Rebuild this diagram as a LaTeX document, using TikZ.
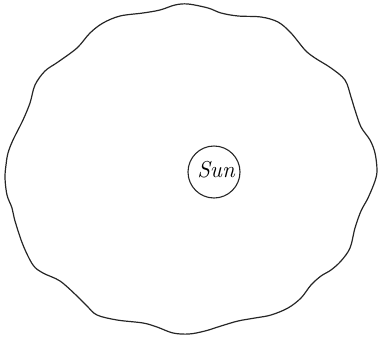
\documentclass[tikz,border=0pt]{standalone}
\begin{document}
\begin{tikzpicture}[x=1pt,y=-1pt,
  orbit/.style={line width=1.2pt,draw=black!85,line join=round},
  sunbox/.style={circle,draw=black!85,line width=1.1pt,minimum size=52pt,inner sep=0pt}]
\useasboundingbox (0,0) rectangle (378,338);
\draw[orbit] plot[smooth cycle,tension=0.55] coordinates {
(188,4) (208,8) (221,13) (238,16) (261,17) (278,22) (291,33) (305,50) (315,58)
(331,68) (345,80) (351,97) (355,110) (361,127) (370,140) (375,153) (377,170)
(375,181) (368,198) (361,211) (355,228) (350,248) (341,261) (331,270) (321,276)
(311,285) (301,298) (288,308) (271,315) (255,318) (238,321) (221,326) (205,331)
(189,334) (173,333) (157,327) (143,323) (117,320) (97,315) (87,306) (77,296)
(60,281) (43,273) (33,265) (23,245) (15,221) (12,208) (7,195) (5,178) (6,165)
(8,153) (13,140) (23,120) (30,103) (35,85) (45,71) (58,62) (77,48) (90,33)
(103,23) (120,16) (143,13) (160,10) (175,5)};
\node[sunbox] (sun) at (214,172) {};
\node (sunlabel) at (216,170) {\fontsize{23}{24}\selectfont\itshape Sun};
\end{tikzpicture}
\end{document}
